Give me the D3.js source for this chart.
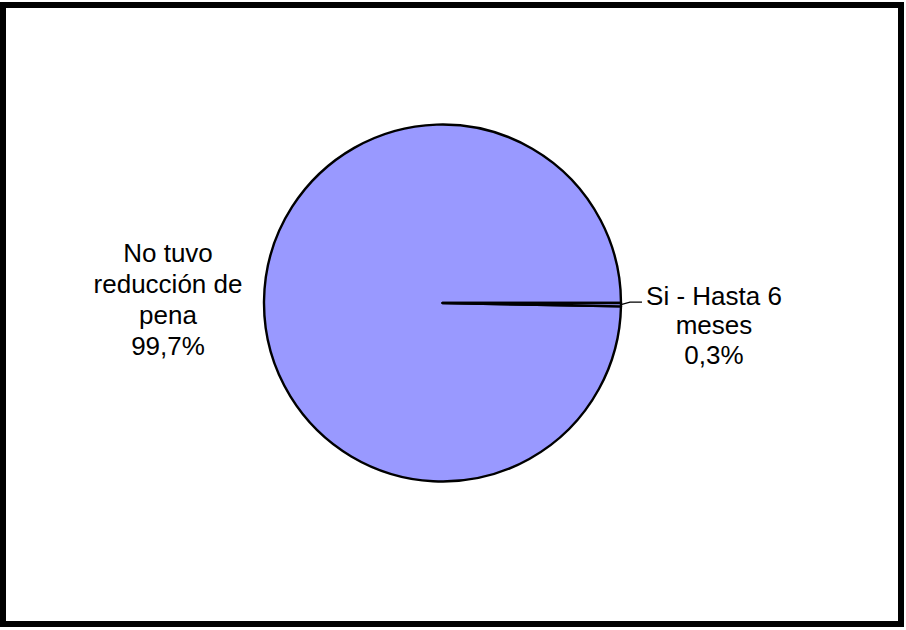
<!DOCTYPE html>
<html>
<head>
<meta charset="utf-8">
<script src="https://cdn.jsdelivr.net/npm/d3@7/dist/d3.min.js"></script>
<style>
  html, body { margin: 0; padding: 0; background: #fff; }
  svg { display: block; }
  text { font-family: "Liberation Sans", Arial, sans-serif; fill: #000; }
</style>
</head>
<body>
<svg id="chart" width="906" height="630"></svg>
<script>
// Reducción de pena
const categories = ["No tuvo reducción de pena", "Si - Hasta 6 meses"];
const labelLines = [["No tuvo", "reducción de", "pena"], ["Si - Hasta 6", "meses"]];
const values = [99.7, 0.3];
const percentLabels = ["99,7%", "0,3%"];

const W = 906, H = 630;
const svg = d3.select("#chart");

// outer frame
svg.append("rect")
  .attr("x", 3).attr("y", 5)
  .attr("width", 898).attr("height", 619)
  .attr("fill", "#fff")
  .attr("stroke", "#000")
  .attr("stroke-width", 6);

const cx = 442.5, cy = 303, r = 178.5;
const total = d3.sum(values);
// the small slice begins at three o'clock
const start = Math.PI / 2 + 2 * Math.PI * values[1] / total;

const pie = d3.pie().sort(null).value(d => d)
  .startAngle(start).endAngle(start + 2 * Math.PI);
const arcs = pie(values);
const arc = d3.arc().innerRadius(0).outerRadius(r);

const g = svg.append("g").attr("transform", `translate(${cx},${cy})`);
g.selectAll("path.slice")
  .data(arcs)
  .join("path")
  .attr("class", "slice")
  .attr("d", arc)
  .attr("fill", "#9999FF")
  .attr("stroke", "#000")
  .attr("stroke-width", 2.4)
  .attr("stroke-linejoin", "round");

const fs = 26, lh = 31;
const mid = a => (a.startAngle + a.endAngle) / 2;

// large slice label, to the left of the pie
{
  const a = arcs[0];
  const lines = labelLines[0].concat([percentLabels[0]]);
  const ang = mid(a);
  const lx = Math.sin(ang) * (r + 96);
  const ly = -Math.cos(ang) * (r + 96);
  const t = g.append("text")
    .attr("text-anchor", "middle")
    .attr("font-size", fs);
  lines.forEach((s, i) => {
    t.append("tspan")
      .attr("x", lx)
      .attr("y", ly + (i - (lines.length - 1) / 2) * lh + fs * 0.3)
      .text(s);
  });
}

// small slice label with leader line
{
  const a = arcs[1];
  const lines = labelLines[1].concat([percentLabels[1]]);
  const ang = mid(a);
  const ex = Math.sin(ang) * r, ey = -Math.cos(ang) * r;
  const kx = ex + 9, ky = ey - 2.5;
  const hx = kx + 12;
  g.append("path")
    .attr("d", `M${ex},${ey}L${kx},${ky}L${hx},${ky}`)
    .attr("fill", "none")
    .attr("stroke", "#000")
    .attr("stroke-width", 1.2);
  const t = g.append("text")
    .attr("text-anchor", "middle")
    .attr("font-size", fs);
  const tx = hx + 72;
  lines.forEach((s, i) => {
    t.append("tspan")
      .attr("x", tx)
      .attr("y", ky + 2.5 + i * 29.5)
      .text(s);
  });
}
</script>
</body>
</html>
